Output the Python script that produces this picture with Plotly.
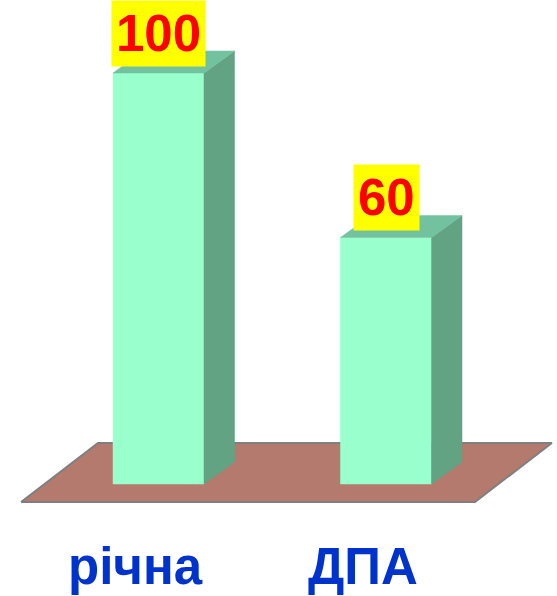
import plotly.graph_objects as go

# Chart data
categories = ["річна", "ДПА"]
values = [100, 60]

# Colours of the pseudo-3D columns and the floor
FRONT = "#99FFCC"
SIDE = "#62A383"
TOP = "#72C29F"
FLOOR = "#B47A6E"
FLOOR_EDGE = "#7F7F7F"

# Geometry in axis units
HALF_W = 0.2      # half width of a column (x units)
DX = 0.134        # depth offset along x
DY = 5.35         # depth offset along y (value units)

fig = go.Figure()


def poly(xs, ys, color, line_color=None, line_width=0):
    fig.add_trace(go.Scatter(
        x=xs + [xs[0]], y=ys + [ys[0]],
        fill="toself", fillcolor=color, mode="lines",
        line=dict(color=line_color or color, width=line_width),
        hoverinfo="skip", showlegend=False,
    ))


# Floor plane under the columns
poly([-0.604, 1.391, 1.729, -0.266], [-4.38, -4.38, 9.98, 9.98],
     FLOOR, FLOOR_EDGE, 2)

# Columns: front, side and top faces
for i, v in enumerate(values):
    x0, x1 = i - HALF_W, i + HALF_W
    poly([x0, x1, x1, x0], [0, 0, v, v], FRONT, FRONT, 0.5)
    poly([x1, x1 + DX, x1 + DX, x1], [0, DY, v + DY, v], SIDE, SIDE, 0.5)
    poly([x0, x1, x1 + DX, x0 + DX], [v, v, v + DY, v + DY], TOP, TOP, 0.5)

annotations = []
# Value labels above each column
for i, v in enumerate(values):
    annotations.append(dict(
        x=i, y=v, xref="x", yref="y", text=f"<b>{v}</b>",
        showarrow=False, yanchor="bottom", yshift=6,
        bgcolor="#FFFF00", borderpad=4,
        font=dict(family="Liberation Sans, Arial, sans-serif", size=51, color="#FF0000"),
    ))
# Category labels below the floor
for i, c in enumerate(categories):
    annotations.append(dict(
        x=i - 0.1, y=-19.95, xref="x", yref="y", text=f"<b>{c}</b>",
        showarrow=False, yanchor="middle", borderpad=0,
        font=dict(family="Liberation Sans, Arial, sans-serif", size=51, color="#0033CC"),
    ))

fig.update_layout(
    width=557, height=596,
    margin=dict(l=0, r=0, t=0, b=0),
    paper_bgcolor="white", plot_bgcolor="white",
    xaxis=dict(range=[-0.6967, 1.7516], visible=False, fixedrange=True),
    yaxis=dict(range=[-27.25, 117.76], visible=False, fixedrange=True),
    annotations=annotations,
    showlegend=False,
)

fig.write_html("out.html", config={"displayModeBar": False})
